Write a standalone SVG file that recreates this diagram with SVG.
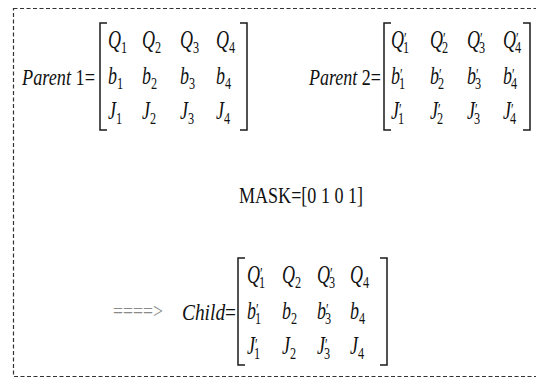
<svg xmlns="http://www.w3.org/2000/svg" width="536" height="380" viewBox="0 0 536 380">
<style>
text{font-family:"Liberation Serif","Times New Roman",serif;fill:#111;font-size:24px}
.c{font-size:25px}
.i{font-style:italic}
.s{font-size:17px;font-style:normal}
.p{font-size:17px;font-style:normal}
.br{fill:none;stroke:#1a1a1a;stroke-width:1.5}
.frame{fill:none;stroke:#333;stroke-width:1.2;stroke-dasharray:4 2.5}
.arr{fill:#8a8a8a;font-size:22px}
</style>
<rect class="frame" x="13.5" y="8.5" width="530" height="368"/>

<g id="parent1">
<text x="22" y="85" textLength="73" lengthAdjust="spacingAndGlyphs"><tspan class="i">Parent</tspan> 1=</text>
<path class="br" d="M107,23H100V130H107M240,23H247V130H240"/>
<text class="c" transform="translate(108,48) scale(.72,1)"><tspan class="i">Q</tspan><tspan class="s" dy="5">1</tspan></text>
<text class="c" transform="translate(142,48) scale(.72,1)"><tspan class="i">Q</tspan><tspan class="s" dy="5">2</tspan></text>
<text class="c" transform="translate(180,48) scale(.72,1)"><tspan class="i">Q</tspan><tspan class="s" dy="5">3</tspan></text>
<text class="c" transform="translate(216,48) scale(.72,1)"><tspan class="i">Q</tspan><tspan class="s" dy="5">4</tspan></text>
<text class="c" transform="translate(108,84) scale(.72,1)"><tspan class="i">b</tspan><tspan class="s" dy="5">1</tspan></text>
<text class="c" transform="translate(142,84) scale(.72,1)"><tspan class="i">b</tspan><tspan class="s" dy="5">2</tspan></text>
<text class="c" transform="translate(180,84) scale(.72,1)"><tspan class="i">b</tspan><tspan class="s" dy="5">3</tspan></text>
<text class="c" transform="translate(216,84) scale(.72,1)"><tspan class="i">b</tspan><tspan class="s" dy="5">4</tspan></text>
<text class="c" transform="translate(108,119) scale(.72,1)"><tspan class="i">J</tspan><tspan class="s" dy="5">1</tspan></text>
<text class="c" transform="translate(142,119) scale(.72,1)"><tspan class="i">J</tspan><tspan class="s" dy="5">2</tspan></text>
<text class="c" transform="translate(180,119) scale(.72,1)"><tspan class="i">J</tspan><tspan class="s" dy="5">3</tspan></text>
<text class="c" transform="translate(216,119) scale(.72,1)"><tspan class="i">J</tspan><tspan class="s" dy="5">4</tspan></text>
</g>

<g id="parent2">
<text x="309" y="85" textLength="72" lengthAdjust="spacingAndGlyphs"><tspan class="i">Parent</tspan> 2=</text>
<path class="br" d="M391,23H384V130H391M523,23H530V130H523"/>
<text class="c" transform="translate(391,48) scale(.72,1)"><tspan class="i">Q</tspan><tspan class="p" dy="-4">′</tspan><tspan class="s" dx="-5" dy="9">1</tspan></text>
<text class="c" transform="translate(430,48) scale(.72,1)"><tspan class="i">Q</tspan><tspan class="p" dy="-4">′</tspan><tspan class="s" dx="-5" dy="9">2</tspan></text>
<text class="c" transform="translate(467,48) scale(.72,1)"><tspan class="i">Q</tspan><tspan class="p" dy="-4">′</tspan><tspan class="s" dx="-5" dy="9">3</tspan></text>
<text class="c" transform="translate(503,48) scale(.72,1)"><tspan class="i">Q</tspan><tspan class="p" dy="-4">′</tspan><tspan class="s" dx="-5" dy="9">4</tspan></text>
<text class="c" transform="translate(391,84) scale(.72,1)"><tspan class="i">b</tspan><tspan class="p" dy="-4">′</tspan><tspan class="s" dx="-5" dy="9">1</tspan></text>
<text class="c" transform="translate(430,84) scale(.72,1)"><tspan class="i">b</tspan><tspan class="p" dy="-4">′</tspan><tspan class="s" dx="-5" dy="9">2</tspan></text>
<text class="c" transform="translate(467,84) scale(.72,1)"><tspan class="i">b</tspan><tspan class="p" dy="-4">′</tspan><tspan class="s" dx="-5" dy="9">3</tspan></text>
<text class="c" transform="translate(503,84) scale(.72,1)"><tspan class="i">b</tspan><tspan class="p" dy="-4">′</tspan><tspan class="s" dx="-5" dy="9">4</tspan></text>
<text class="c" transform="translate(391,119) scale(.72,1)"><tspan class="i">J</tspan><tspan class="p" dy="-4">′</tspan><tspan class="s" dx="-5" dy="9">1</tspan></text>
<text class="c" transform="translate(430,119) scale(.72,1)"><tspan class="i">J</tspan><tspan class="p" dy="-4">′</tspan><tspan class="s" dx="-5" dy="9">2</tspan></text>
<text class="c" transform="translate(467,119) scale(.72,1)"><tspan class="i">J</tspan><tspan class="p" dy="-4">′</tspan><tspan class="s" dx="-5" dy="9">3</tspan></text>
<text class="c" transform="translate(503,119) scale(.72,1)"><tspan class="i">J</tspan><tspan class="p" dy="-4">′</tspan><tspan class="s" dx="-5" dy="9">4</tspan></text>
</g>

<g id="mask">
<text x="239" y="203" textLength="124" lengthAdjust="spacingAndGlyphs">MASK=[0 1 0 1]</text>
</g>

<g id="child">
<text class="arr" x="113" y="318" textLength="50" lengthAdjust="spacingAndGlyphs">====&gt;</text>
<text x="182" y="320" textLength="54" lengthAdjust="spacingAndGlyphs"><tspan class="i">Child</tspan>=</text>
<path class="br" d="M245,258H238V365H245M380,258H387V365H380"/>
<text class="c" transform="translate(247,283) scale(.72,1)"><tspan class="i">Q</tspan><tspan class="p" dy="-4">′</tspan><tspan class="s" dx="-5" dy="9">1</tspan></text>
<text class="c" transform="translate(282,283) scale(.72,1)"><tspan class="i">Q</tspan><tspan class="s" dy="5">2</tspan></text>
<text class="c" transform="translate(317,283) scale(.72,1)"><tspan class="i">Q</tspan><tspan class="p" dy="-4">′</tspan><tspan class="s" dx="-5" dy="9">3</tspan></text>
<text class="c" transform="translate(350,283) scale(.72,1)"><tspan class="i">Q</tspan><tspan class="s" dy="5">4</tspan></text>
<text class="c" transform="translate(247,319) scale(.72,1)"><tspan class="i">b</tspan><tspan class="p" dy="-4">′</tspan><tspan class="s" dx="-5" dy="9">1</tspan></text>
<text class="c" transform="translate(282,319) scale(.72,1)"><tspan class="i">b</tspan><tspan class="s" dy="5">2</tspan></text>
<text class="c" transform="translate(317,319) scale(.72,1)"><tspan class="i">b</tspan><tspan class="p" dy="-4">′</tspan><tspan class="s" dx="-5" dy="9">3</tspan></text>
<text class="c" transform="translate(350,319) scale(.72,1)"><tspan class="i">b</tspan><tspan class="s" dy="5">4</tspan></text>
<text class="c" transform="translate(247,354) scale(.72,1)"><tspan class="i">J</tspan><tspan class="p" dy="-4">′</tspan><tspan class="s" dx="-5" dy="9">1</tspan></text>
<text class="c" transform="translate(282,354) scale(.72,1)"><tspan class="i">J</tspan><tspan class="s" dy="5">2</tspan></text>
<text class="c" transform="translate(317,354) scale(.72,1)"><tspan class="i">J</tspan><tspan class="p" dy="-4">′</tspan><tspan class="s" dx="-5" dy="9">3</tspan></text>
<text class="c" transform="translate(350,354) scale(.72,1)"><tspan class="i">J</tspan><tspan class="s" dy="5">4</tspan></text>
</g>
</svg>
